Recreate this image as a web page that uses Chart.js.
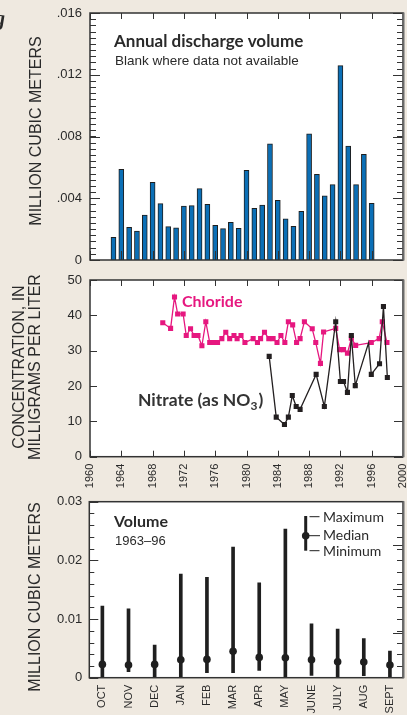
<!DOCTYPE html>
<html>
<head>
<meta charset="utf-8">
<script src="https://cdn.jsdelivr.net/npm/chart.js@4.4.0/dist/chart.umd.min.js"></script>
<style>
html, body { margin: 0; padding: 0; background: #efe9e0; }
body { width: 407px; height: 715px; position: relative; overflow: hidden; }
canvas { position: absolute; left: 0; }
</style>
</head>
<body>
<canvas id="annualChart" width="407" height="270" style="top:0px"></canvas>
<canvas id="concChart" width="407" height="220" style="top:270px"></canvas>
<canvas id="monthChart" width="407" height="225" style="top:490px"></canvas>
<script>
// 年間流出量 (百万m3)
const years = [1963, 1964, 1965, 1966, 1967, 1968, 1969, 1970, 1971, 1972, 1973, 1974, 1975, 1976, 1977, 1978, 1979,
    1980, 1981, 1982, 1983, 1984, 1985, 1986, 1987, 1988, 1989, 1990, 1991, 1992, 1993, 1994, 1995, 1996];
const annualVolume = [0.00147, 0.00587, 0.00212, 0.00188, 0.00291, 0.00503, 0.00365, 0.00216, 0.00209, 0.00350,
    0.00352, 0.00462, 0.00361, 0.00225, 0.00203, 0.00244, 0.00205, 0.00581, 0.00335, 0.00356, 0.00753, 0.00386,
    0.00266, 0.00218, 0.00315, 0.00818, 0.00555, 0.00415, 0.00488, 0.01259, 0.00738, 0.00488, 0.00684, 0.00367];
const volTicks = [0, 0.004, 0.008, 0.012, 0.016];
const volTickLabels = ['0', '.004', '.008', '.012', '.016'];

// 塩化物・硝酸塩の濃度 (mg/L)
const chlorideYears = [1969.3, 1970.3, 1970.8, 1971.2, 1971.9, 1972.3, 1972.85, 1973.3, 1973.8, 1974.3, 1974.8,
    1975.3, 1975.8, 1976.3, 1976.85, 1977.35, 1977.85, 1978.4, 1978.8, 1979.3, 1979.8, 1980.85, 1981.4, 1981.8,
    1982.3, 1982.85, 1983.4, 1983.9, 1984.4, 1984.9, 1985.35, 1985.9, 1986.4, 1986.85, 1987.4, 1988.4, 1988.85,
    1989.45, 1989.85, 1991.4, 1991.9, 1992.4, 1992.9, 1993.4, 1993.95, 1995.95, 1996.95, 1997.35, 1997.95];
const chlorideValues = [37.9, 36.3, 45.2, 40.4, 40.4, 34.3, 36.2, 34.3, 34.3, 31.4, 38.2,
    32.3, 32.3, 32.3, 33.4, 35.2, 33.4, 34.3, 33.4, 34.3, 32.3, 33.4, 32.3, 33.4,
    35.2, 33.4, 33.4, 32.3, 34.3, 32.3, 38.2, 37.3, 32.3, 33.4, 38.2, 36.2, 32.3,
    26.4, 35.3, 36.3, 30.3, 30.3, 29.3, 33.5, 31.5, 32.3, 33.4, 38.2, 32.3];
const nitrateYears = [1982.9, 1983.8, 1984.85, 1985.35, 1985.85, 1986.35, 1986.85, 1988.9, 1989.95, 1991.4,
    1992.0, 1992.4, 1992.9, 1993.4, 1993.9, 1995.6, 1995.95, 1997.0, 1997.5, 1998.0];
const nitrateValues = [28.4, 11.2, 9.1, 11.2, 17.3, 14.2, 13.4, 23.3, 14.2, 38.2,
    21.3, 21.3, 18.2, 34.3, 20.1, 32.2, 23.3, 26.3, 42.5, 22.4];
const nitrateHiddenMarker = 15; // 塩化物のマーカーに隠れている点
const yearTicks = [1960, 1964, 1968, 1972, 1976, 1980, 1984, 1988, 1992, 1996, 2000];
const yearTickLabels = ['1960', '1964', '1968', '1972', '1976', '1980', '1984', '1988', '1992', '1996', '2000'];
const concTicks = [0, 10, 20, 30, 40, 50];
const concTickLabels = ['0', '10', '20', '30', '40', '50'];

// 月別流出量 1963-96 (最大・中央値・最小)
const months = ['OCT', 'NOV', 'DEC', 'JAN', 'FEB', 'MAR', 'APR', 'MAY', 'JUNE', 'JULY', 'AUG', 'SEPT'];
const monthMax = [0.0122, 0.01176, 0.00557, 0.01767, 0.0171, 0.02227, 0.01619, 0.02533, 0.0092, 0.0083, 0.00665, 0.00454];
const monthMedian = [0.00227, 0.00216, 0.00227, 0.00307, 0.00312, 0.00449, 0.00346, 0.00341, 0.00307, 0.00273, 0.00267, 0.00216];
const monthMin = [0, 0.00102, 0, 0.00017, 0.00085, 0.00085, 0.00125, 0, 0.0004, 0, 0.00034, 0];
const monthTicks = [0, 0.01, 0.02, 0.03];
const monthTickLabels = ['0', '0.01', '0.02', '0.03'];
const monthRightMajor = [0.00755, 0.0151, 0.02265];


const tickFont = { family: 'Liberation Sans', size: 13 };
const ink = '#2a2a2a';

// 枠線の内側に向いた目盛りを描く
function inwardY(ctx, a, y, left, right) {
    y = Math.round(y) + 0.5;
    ctx.beginPath();
    if (left) { ctx.moveTo(a.left, y); ctx.lineTo(a.left + left, y); }
    if (right) { ctx.moveTo(a.right, y); ctx.lineTo(a.right - right, y); }
    ctx.stroke();
}
function inwardX(ctx, a, x, top, bottom) {
    x = Math.round(x) + 0.5;
    ctx.beginPath();
    if (top) { ctx.moveTo(x, a.top); ctx.lineTo(x, a.top + top); }
    if (bottom) { ctx.moveTo(x, a.bottom); ctx.lineTo(x, a.bottom - bottom); }
    ctx.stroke();
}
function drawRotated(ctx, text, x, y, font) {
    ctx.save();
    ctx.translate(x, y);
    ctx.rotate(-Math.PI / 2);
    ctx.font = font;
    ctx.fillStyle = ink;
    ctx.textAlign = 'center';
    ctx.textBaseline = 'middle';
    ctx.fillText(text, 0, 0);
    ctx.restore();
}
function drawText(ctx, text, x, y, font, color) {
    ctx.font = font;
    ctx.fillStyle = color || ink;
    ctx.textAlign = 'left';
    ctx.textBaseline = 'alphabetic';
    ctx.fillText(text, x, y);
}

const whitePlot = {
    id: 'whitePlot',
    beforeDraw(chart) {
        const a = chart.chartArea;
        chart.ctx.fillStyle = '#ffffff';
        chart.ctx.fillRect(a.left, a.top, a.right - a.left, a.bottom - a.top);
    }
};
function frame(ctx, a) {
    ctx.lineWidth = 1.5;
    ctx.strokeStyle = '#333333';
    ctx.strokeRect(a.left, a.top, a.right - a.left, a.bottom - a.top);
    // 右側の枠はやや灰色で太い
    ctx.lineWidth = 2;
    ctx.strokeStyle = '#6b6b6b';
    ctx.beginPath();
    ctx.moveTo(a.right + 0.5, a.top - 0.5);
    ctx.lineTo(a.right + 0.5, a.bottom + 0.5);
    ctx.stroke();
}

function fixY(width) {
    return function(s) { s.width = width; s.paddingTop = 0; s.paddingBottom = 0; };
}
function fixX(height) {
    return function(s) { s.height = height; s.paddingLeft = 0; s.paddingRight = 0; };
}

// ---- 上段：年間流出量 ----
new Chart(document.getElementById('annualChart'), {
    type: 'bar',
    data: {
        datasets: [{
            data: years.map((y, i) => ({ x: y, y: annualVolume[i] })),
            backgroundColor: '#0b6fb6',
            borderColor: '#1e1e1e',
            borderWidth: 1,
            barThickness: 5,
        }]
    },
    options: {
        responsive: false,
        animation: false,
        devicePixelRatio: 1,
        layout: { padding: { top: 13, right: 4, bottom: 10, left: 0 } },
        plugins: { legend: { display: false }, tooltip: { enabled: false } },
        scales: {
            x: { type: 'linear', min: 1960, max: 2000, offset: false, display: false },
            y: {
                min: 0, max: 0.016,
                afterFit: fixY(90),
                afterBuildTicks: s => { s.ticks = volTicks.map(v => ({ value: v })); },
                ticks: { callback: (v, i) => volTickLabels[i], padding: 8, font: tickFont, color: ink },
                grid: { display: false, drawTicks: false },
                border: { display: false }
            }
        }
    },
    plugins: [whitePlot, {
        id: 'annualDecor',
        afterDraw(chart) {
            const { ctx, chartArea: a, scales } = chart;
            ctx.save();
            ctx.strokeStyle = '#333333';
            ctx.lineWidth = 1;
            for (let v = 0.0004; v < 0.016; v += 0.0004) {
                inwardY(ctx, a, scales.y.getPixelForValue(v), 6, 6);
            }
            volTicks.forEach(v => inwardY(ctx, a, scales.y.getPixelForValue(v), 10, 10));
            yearTicks.forEach(v => inwardX(ctx, a, scales.x.getPixelForValue(v), 6, 9));
            frame(ctx, a);
            drawText(ctx, 'Annual discharge volume', 114, 46.5, 'bold 17px Lato');
            drawText(ctx, 'Blank where data not available', 115, 64.5, '13.5px "Liberation Sans"');
            drawRotated(ctx, 'MILLION CUBIC METERS', 37, 131, '16px "Liberation Sans"');
            drawText(ctx, 'g', -5, 25, 'italic bold 20px "Liberation Serif"');
            ctx.restore();
        }
    }]
});

// ---- 中段：濃度 ----
new Chart(document.getElementById('concChart'), {
    type: 'line',
    data: {
        datasets: [{
            label: 'Nitrate',
            data: nitrateYears.map((y, i) => ({ x: y, y: nitrateValues[i] })),
            borderColor: '#231f20',
            backgroundColor: '#231f20',
            borderWidth: 1.3,
            pointStyle: 'rect',
            pointRadius: c => c.dataIndex === nitrateHiddenMarker ? 0 : 3.6,
            pointBorderWidth: 0,
            tension: 0,
        }, {
            label: 'Chloride',
            data: chlorideYears.map((y, i) => ({ x: y, y: chlorideValues[i] })),
            borderColor: '#e6177f',
            backgroundColor: '#e6177f',
            borderWidth: 1.3,
            pointStyle: 'rect',
            pointRadius: 3.6,
            pointBorderWidth: 0,
            tension: 0,
        }]
    },
    options: {
        responsive: false,
        animation: false,
        devicePixelRatio: 1,
        layout: { padding: { top: 10, right: 4, bottom: 0, left: 0 } },
        plugins: { legend: { display: false }, tooltip: { enabled: false } },
        scales: {
            x: {
                type: 'linear', min: 1960, max: 2000,
                afterFit: fixX(33.3),
                afterBuildTicks: s => { s.ticks = yearTicks.map(v => ({ value: v })); },
                ticks: {
                    callback: (v, i) => yearTickLabels[i],
                    minRotation: 90, maxRotation: 90, autoSkip: false, padding: 7,
                    font: { family: 'Liberation Sans', size: 11 }, color: ink
                },
                grid: { display: false, drawTicks: false },
                border: { display: false }
            },
            y: {
                min: 0, max: 50,
                afterFit: fixY(90),
                afterBuildTicks: s => { s.ticks = concTicks.map(v => ({ value: v })); },
                ticks: { callback: (v, i) => concTickLabels[i], padding: 8, font: tickFont, color: ink },
                grid: { display: false, drawTicks: false },
                border: { display: false }
            }
        }
    },
    plugins: [whitePlot, {
        id: 'concDecor',
        afterDraw(chart) {
            const { ctx, chartArea: a, scales } = chart;
            ctx.save();
            ctx.strokeStyle = '#333333';
            ctx.lineWidth = 1;
            concTicks.forEach(v => inwardY(ctx, a, scales.y.getPixelForValue(v), 7, 9));
            yearTicks.forEach(v => inwardX(ctx, a, scales.x.getPixelForValue(v), 6, 6));
            frame(ctx, a);
            drawText(ctx, 'Chloride', 182, 36.5, 'bold 16px Lato', '#e6177f');
            const nFont = 'bold 17.5px Lato';
            drawText(ctx, 'Nitrate (as NO', 138, 135.5, nFont, '#333333');
            const w = ctx.measureText('Nitrate (as NO').width;
            drawText(ctx, '3', 138 + w, 139.5, 'bold 12px Lato', '#333333');
            const w3 = ctx.measureText('3').width;
            drawText(ctx, ')', 138 + w + w3 + 1, 135.5, nFont, '#333333');
            drawRotated(ctx, 'CONCENTRATION, IN', 20, 97, '16px "Liberation Sans"');
            drawRotated(ctx, 'MILLIGRAMS PER LITER', 36, 97, '16px "Liberation Sans"');
            ctx.restore();
        }
    }]
});

// ---- 下段：月別流出量 ----
new Chart(document.getElementById('monthChart'), {
    type: 'bar',
    data: {
        labels: months,
        datasets: [{
            type: 'line',
            data: monthMedian,
            showLine: false,
            pointRadius: 3.8,
            pointBorderWidth: 0,
            pointBackgroundColor: '#1f1f1f',
        }, {
            type: 'bar',
            data: months.map((m, i) => [monthMin[i], monthMax[i]]),
            backgroundColor: '#1f1f1f',
            barThickness: 3,
        }]
    },
    options: {
        responsive: false,
        animation: false,
        devicePixelRatio: 1,
        layout: { padding: { top: 11.7, right: 4, bottom: 0, left: 0 } },
        plugins: { legend: { display: false }, tooltip: { enabled: false } },
        scales: {
            x: {
                afterFit: fixX(37.3),
                ticks: {
                    minRotation: 90, maxRotation: 90, autoSkip: false, padding: 7,
                    font: { family: 'Liberation Sans', size: 11 }, color: ink
                },
                grid: { display: false, drawTicks: false },
                border: { display: false }
            },
            y: {
                min: 0, max: 0.03,
                afterFit: fixY(89.3),
                afterBuildTicks: s => { s.ticks = monthTicks.map(v => ({ value: v })); },
                ticks: { callback: (v, i) => monthTickLabels[i], padding: 7, font: tickFont, color: ink },
                grid: { display: false, drawTicks: false },
                border: { display: false }
            }
        }
    },
    plugins: [whitePlot, {
        id: 'monthDecor',
        afterDraw(chart) {
            const { ctx, chartArea: a, scales } = chart;
            ctx.save();
            ctx.strokeStyle = '#333333';
            ctx.lineWidth = 1;
            for (let v = 0.002; v < 0.03; v += 0.002) {
                inwardY(ctx, a, scales.y.getPixelForValue(v), 5, 6);
            }
            monthTicks.forEach(v => inwardY(ctx, a, scales.y.getPixelForValue(v), 9, 0));
            monthRightMajor.forEach(v => inwardY(ctx, a, scales.y.getPixelForValue(v), 0, 10));
            frame(ctx, a);
            drawText(ctx, 'Volume', 114, 37.3, 'bold 16px Lato');
            drawText(ctx, '1963–96', 115, 55, '13px "Liberation Sans"');

            // 凡例
            ctx.strokeStyle = '#1f1f1f';
            ctx.lineWidth = 3;
            ctx.beginPath();
            ctx.moveTo(305.7, 26); ctx.lineTo(305.7, 60.7);
            ctx.stroke();
            ctx.fillStyle = '#1f1f1f';
            ctx.beginPath();
            ctx.arc(305.7, 45.7, 3.8, 0, Math.PI * 2);
            ctx.fill();
            ctx.lineWidth = 1;
            ctx.beginPath();
            ctx.moveTo(309.5, 26.7); ctx.lineTo(319.5, 26.7);
            ctx.moveTo(309, 45.7); ctx.lineTo(320, 45.7);
            ctx.moveTo(309.5, 60.7); ctx.lineTo(319.5, 60.7);
            ctx.stroke();
            drawText(ctx, 'Maximum', 323, 32, '14px Lato');
            drawText(ctx, 'Median', 323, 49.5, '14px Lato');
            drawText(ctx, 'Minimum', 323, 65.7, '14px Lato');

            drawRotated(ctx, 'MILLION CUBIC METERS', 36, 107, '16px "Liberation Sans"');
            ctx.restore();
        }
    }]
});
</script>
</body>
</html>
